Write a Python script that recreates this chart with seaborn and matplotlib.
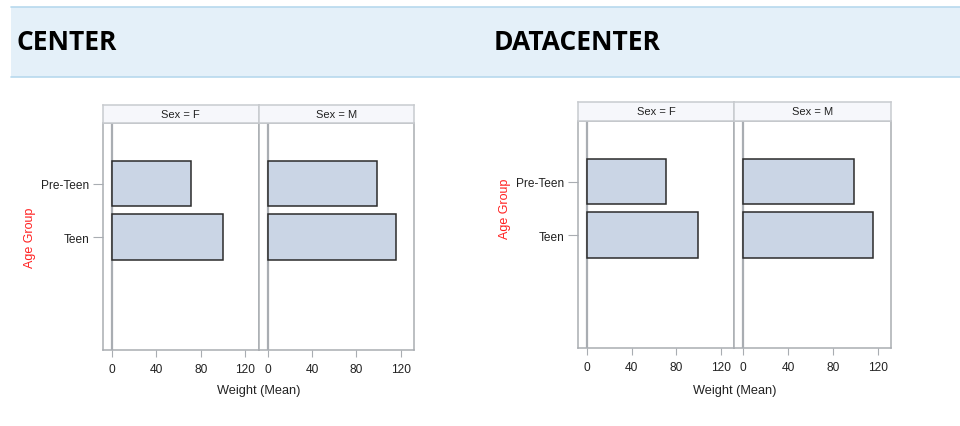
import matplotlib.pyplot as plt
import seaborn as sns
import pandas as pd
from matplotlib.patches import Rectangle
from matplotlib.lines import Line2D

# data (mean weight by sex and age group)
sexes = ["F", "M"]
age_groups = ["Pre-Teen", "Teen"]
weight_f = [70.7, 99.8]
weight_m = [98.9, 115.7]
x_ticks = [0, 40, 80, 120]
titles = ["CENTER", "DATACENTER"]

df = pd.DataFrame({
    "Sex": ["F"] * len(age_groups) + ["M"] * len(age_groups),
    "AgeGroup": age_groups * 2,
    "Weight": weight_f + weight_m,
})

W, H = 960, 427
sns.set_theme(style="white")
plt.rcParams["font.family"] = ["Liberation Sans", "DejaVu Sans"]

fig = plt.figure(figsize=(W / 100, H / 100), dpi=100)
fig.patch.set_facecolor("white")


def px_axes(x0, y0, x1, y1):
    return fig.add_axes([x0 / W, 1 - y1 / H, (x1 - x0) / W, (y1 - y0) / H])


# header band
fig.patches.append(Rectangle((11 / W, 1 - 78 / H), (W - 11) / W, 70 / H,
                             transform=fig.transFigure, facecolor="#E4F0F9",
                             edgecolor="none", zorder=0))
for yy in (8, 78):
    fig.lines.append(Line2D([11 / W, 1], [1 - yy / H, 1 - yy / H],
                            transform=fig.transFigure, color="#B7D9EE", lw=1.2))

frame_col = "#A9ADB2"
bar_fill = "#CAD5E5"

# (panel left, divider, right, strip top, data top, data bottom, ylabel y, title x)
layouts = [
    (103, 258.7, 414, 105.7, 124, 350.7, 237.5, 17),
    (578.3, 734.3, 891, 102.7, 121.7, 349.3, 209.3, 494),
]

for title, (xl, xm, xr, st, dt, db, yl, tx) in zip(titles, layouts):
    fig.text(tx / W, 1 - 50 / H, title, fontsize=19, fontweight="bold",
             family="Open Sans", color="black", va="baseline", ha="left")
    for i, (sex, (a, b)) in enumerate(zip(sexes, [(xl, xm), (xm, xr)])):
        ax = px_axes(a, dt, b, db)
        sub = df[df["Sex"] == sex]
        sns.barplot(data=sub, x="Weight", y="AgeGroup", order=age_groups,
                    orient="h", color=bar_fill, saturation=1, width=0.85,
                    edgecolor="#2B2B2B", linewidth=1.1, errorbar=None, ax=ax)
        ax.axvline(0, color=frame_col, lw=1.6, zorder=0)
        ax.set_xlim(-8, 132)
        ax.set_ylim(3.1, -1.13)
        ax.set_xticks(x_ticks)
        ax.set_xlabel("")
        ax.set_ylabel("")
        ax.tick_params(axis="x", bottom=True, length=5, width=0.8,
                       color=frame_col, labelsize=8.6, pad=4.5, labelcolor="#222222")
        if i == 0:
            ax.tick_params(axis="y", left=True, length=7, width=0.8,
                           color=frame_col, labelsize=8.6, pad=3, labelcolor="#222222")
        else:
            ax.tick_params(axis="y", left=False, labelleft=False)
        for sp in ax.spines.values():
            sp.set_color(frame_col)
            sp.set_linewidth(1.1)

        # strip header
        sax = px_axes(a, st, b, dt)
        sax.set_facecolor("#F6F7FB")
        sax.set_xticks([])
        sax.set_yticks([])
        for sp in sax.spines.values():
            sp.set_color("#C8CBCF")
            sp.set_linewidth(1.1)
        sax.text(0.5, 0.5, f"Sex = {sex}", ha="center", va="center",
                 fontsize=8, color="#222222", transform=sax.transAxes)

    fig.text(xm / W, 1 - 391 / H, "Weight (Mean)", ha="center", va="center",
             fontsize=9.2, color="#222222")
    fig.text((xl - 73) / W, 1 - yl / H, "Age Group", ha="center", va="center",
             rotation=90, fontsize=9, color="#FF2020")

fig.savefig("out.png", dpi=100, facecolor="white")
